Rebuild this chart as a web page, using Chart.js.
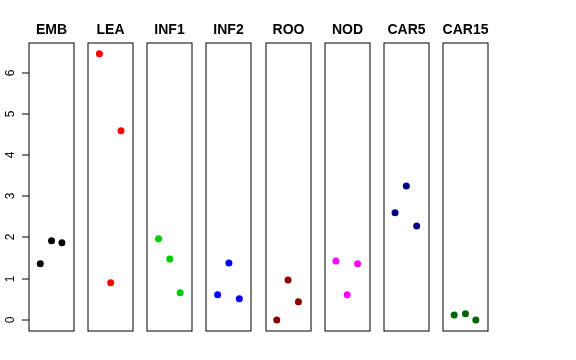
<!DOCTYPE html>
<html>
<head>
<meta charset="utf-8">
<script src="https://cdn.jsdelivr.net/npm/chart.js@4"></script>
<style>
  html, body { margin: 0; padding: 0; background: #fff; }
  #wrap { width: 576px; height: 360px; }
</style>
</head>
<body>
<div id="wrap"><canvas id="stripPanels"></canvas></div>
<script>
var panels = ["EMB", "LEA", "INF1", "INF2", "ROO", "NOD", "CAR5", "CAR15"];
var colors = ["#000000", "#ff0000", "#00cd00", "#0000ff", "#8b0000", "#ff00ff", "#000080", "#006400"];

// values left -> right inside each panel
var emb   = [1.36, 1.92, 1.87];
var lea   = [6.46, 0.90, 4.59];
var inf1  = [1.97, 1.48, 0.66];
var inf2  = [0.61, 1.38, 0.51];
var roo   = [0.00, 0.97, 0.44];
var nod   = [1.43, 0.61, 1.36];
var car5  = [2.60, 3.25, 2.28];
var car15 = [0.12, 0.15, 0.00];
var yTicks = [0, 1, 2, 3, 4, 5, 6];

var series = [emb, lea, inf1, inf2, roo, nod, car5, car15];
var jitter = [0.25, 0.5, 0.73];
var step = 59 / 45;   // panel width is 1 unit, gap included in step

var datasets = series.map(function (vals, i) {
    return {
        label: panels[i],
        data: vals.map(function (v, j) { return { x: i * step + jitter[j], y: v }; }),
        backgroundColor: colors[i],
        borderWidth: 0,
        pointRadius: 3.5,
        pointHoverRadius: 3.5
    };
});

const panelDecor = {
    id: 'panelDecor',
    afterDatasetsDraw(chart) {
        const ctx = chart.ctx;
        const xs = chart.scales.x, ys = chart.scales.y;
        const top = chart.chartArea.top, bottom = chart.chartArea.bottom;
        ctx.save();
        ctx.strokeStyle = '#000';
        ctx.lineWidth = 1;
        panels.forEach(function (name, i) {
            const l = Math.round(xs.getPixelForValue(i * step));
            const r = Math.round(xs.getPixelForValue(i * step + 1));
            ctx.strokeRect(l, top, r - l, bottom - top);
            ctx.fillStyle = '#000';
            ctx.font = 'bold 14px "Liberation Sans", Arial, sans-serif';
            ctx.textAlign = 'center';
            ctx.textBaseline = 'alphabetic';
            ctx.fillText(name, (l + r) / 2, 34);
        });
        // y axis on first panel
        const ax = Math.round(xs.getPixelForValue(0));
        ctx.font = '12px "Liberation Sans", Arial, sans-serif';
        yTicks.forEach(function (t) {
            const y = Math.round(ys.getPixelForValue(t));
            ctx.beginPath();
            ctx.moveTo(ax, y);
            ctx.lineTo(ax - 7, y);
            ctx.stroke();
            ctx.save();
            ctx.translate(14, y);
            ctx.rotate(-Math.PI / 2);
            ctx.textAlign = 'center';
            ctx.textBaseline = 'alphabetic';
            ctx.fillText(String(t), 0, 0);
            ctx.restore();
        });
        ctx.restore();
    }
};

const stripPanels = new Chart('stripPanels', {
    type: 'scatter',
    data: { datasets: datasets },
    options: {
        responsive: true,
        maintainAspectRatio: false,
        animation: false,
        layout: { padding: { left: 29, right: 88, top: 43, bottom: 29 } },
        scales: {
            x: { type: 'linear', min: 0, max: 7 * step + 1, display: false },
            y: { type: 'linear', min: -0.27, max: 6.72, display: false }
        },
        plugins: {
            legend: { display: false },
            tooltip: { enabled: false }
        }
    },
    plugins: [panelDecor]
});
</script>
</body>
</html>
